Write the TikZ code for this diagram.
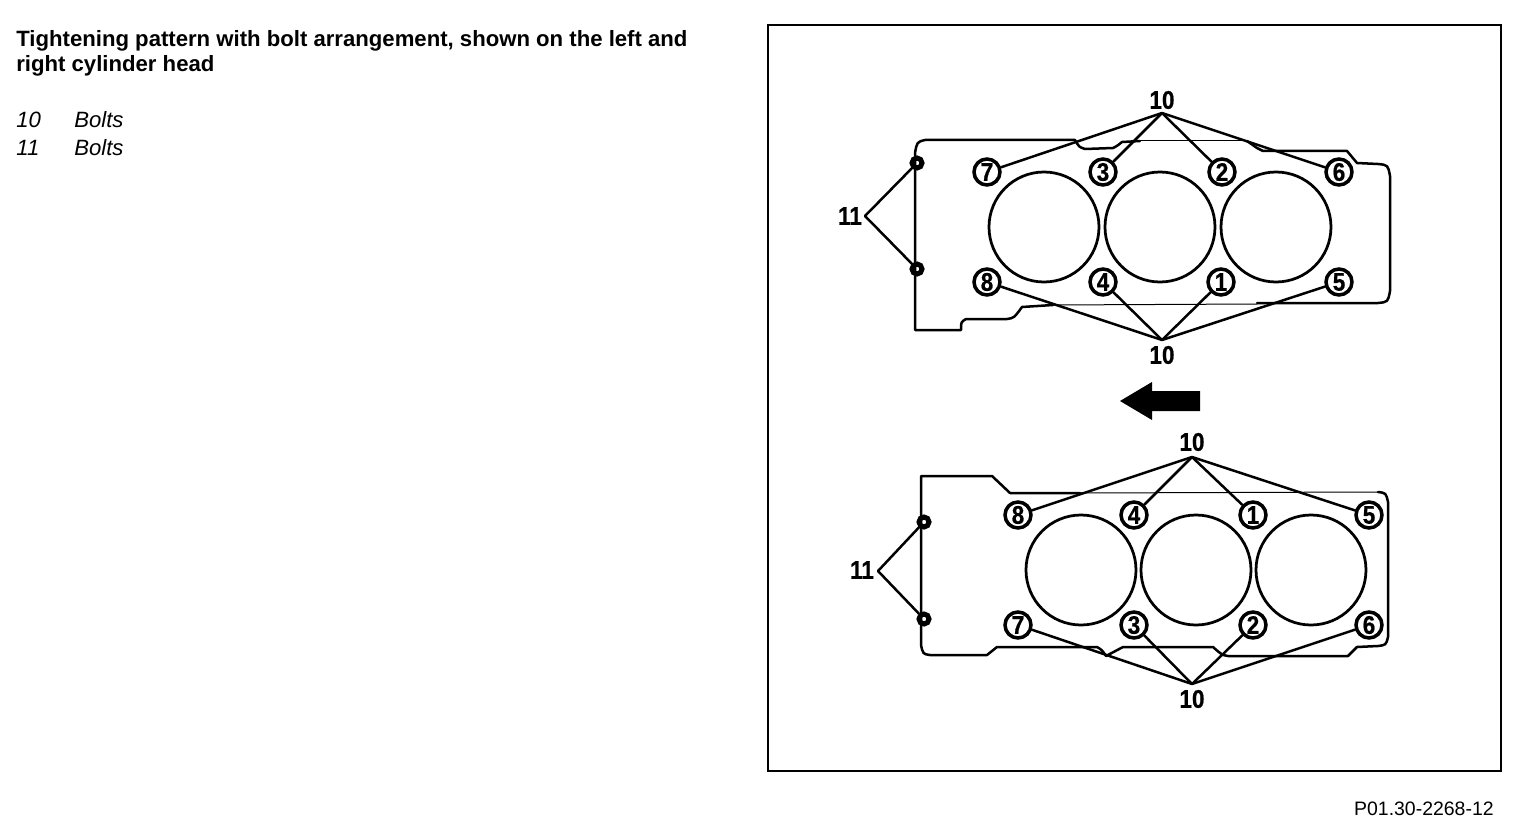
\documentclass[tikz,border=0pt]{standalone}
\usepackage{fontspec}
\setmainfont{Liberation Sans}
\newfontfamily\digitfont[FakeStretch=0.88,BoldFeatures={FakeBold=0.8}]{Liberation Sans}
\tikzset{
  bolt/.style={draw,circle,line width=0.07cm,minimum size=0.52cm,inner sep=0pt,font=\digitfont\fontsize{14.5}{14.5}\selectfont\bfseries},
  hole/.style={draw,circle,line width=0.1cm,minimum size=0.2cm,inner sep=0pt},
  bore/.style={line width=0.055cm},
  outline/.style={line width=0.05cm,line join=round},
  thinline/.style={line width=0.02cm},
  leader/.style={line width=0.05cm},
  callout/.style={inner sep=0pt,font=\digitfont\fontsize{14.5}{14.5}\selectfont\bfseries},
  caption/.style={inner sep=0pt,anchor=base west,font=\fontsize{12.6}{12.6}\selectfont},
  number/.style={caption,font=\fontsize{11.07}{11.07}\selectfont}
}
\begin{document}
\begin{tikzpicture}[x=0.02cm,y=-0.02cm,line cap=round]
    \useasboundingbox (0,0) rectangle (1536,828);
    % text on the left
    \node[caption] (title1) at (16,47) {\bfseries Tightening pattern with bolt arrangement, shown on the left and};
    \node[caption] (title2) at (16,72) {\bfseries right cylinder head};
    \node[caption] (num10) at (16,128) {\itshape 10};
    \node[caption] (txt10) at (74,128) {\itshape Bolts};
    \node[caption] (num11) at (16,155) {\itshape 11};
    \node[caption] (txt11) at (74,155) {\itshape Bolts};
    \node[number,anchor=base east] (code) at (1494,815) {P01.30-2268-12};
    \draw[line width=0.04cm] (768,25) rectangle (1501,771);
    % upper head
    \draw[outline] (1140,141) -- (1122,142) .. controls (1117,146) .. (1113,148) -- (1085,149) .. controls (1079,147) .. (1075,140)
        -- (925,140) .. controls (917,142) .. (915,153) -- (915,330) -- (961,330) .. controls (961,322) .. (966,319)
        -- (1007,319) .. controls (1014,318) .. (1022,307) -- (1053,305);
    \draw[outline] (1247,141) -- (1257,148) -- (1263,151) -- (1347,151) -- (1357,163) -- (1378,164)
        .. controls (1388,165) .. (1390,176) -- (1390,291) .. controls (1388,302) .. (1378,303) -- (1257,303);
    \draw[thinline] (1140,141) -- (1247,141);
    \draw[thinline] (1053,305) -- (1257,304);
    \foreach \x in {1044,1160,1276}
    \draw[bore] (\x,227) circle (55);
    \node[hole] (th1) at (917,163) {};
    \node[hole] (th2) at (917,269) {};
    \foreach \name/\x/\y/\num in {t7/987/172/7,t3/1103/172/3,t2/1222/172/2,t6/1339/172/6,t8/987/282/8,t4/1103/282/4,t1/1221/282/1,t5/1339/282/5}
    \node[bolt] (\name) at (\x,\y) {\num};
    \node[callout] (ttop) at (1162,100) {10};
    \node[callout] (tbot) at (1162,355) {10};
    \node[callout] (tleft) at (850,216) {11};
    \coordinate (atop) at (1162,113);
    \coordinate (abot) at (1162,340);
    \coordinate (aleft) at (865,216);
    \foreach \b in {t7,t3,t2,t6}
    \draw[leader] (atop) -- (\b);
    \foreach \b in {t8,t4,t1,t5}
    \draw[leader] (abot) -- (\b);
    \foreach \b in {th1,th2}
    \draw[leader] (aleft) -- (\b);
    % arrow
    \fill (1120,401) -- (1152,382) -- (1152,391) -- (1200,391) -- (1200,411) -- (1152,411) -- (1152,420) -- cycle;
    % lower head
    \draw[outline] (1378,492) .. controls (1386,493) .. (1388,502) -- (1388,637) .. controls (1386,645) .. (1378,646)
        -- (1357,647) -- (1348,656) -- (1228,656) .. controls (1222,655) .. (1213,647) -- (1123,647) -- (1106,656)
        .. controls (1102,650) .. (1097,647) -- (997,647) -- (987,655) -- (930,655) .. controls (923,654) .. (921,645)
        -- (921,476) -- (992,476) -- (1010,493) -- (1080,493);
    \draw[thinline] (1080,493) -- (1378,492);
    \foreach \x in {1081,1196,1311}
    \draw[bore] (\x,570) circle (55);
    \node[hole] (bh1) at (924,522) {};
    \node[hole] (bh2) at (924,619) {};
    \foreach \name/\x/\y/\num in {b8/1018/515/8,b4/1134/515/4,b1/1253/515/1,b5/1369/515/5,b7/1018/625/7,b3/1134/625/3,b2/1253/625/2,b6/1369/625/6}
    \node[bolt] (\name) at (\x,\y) {\num};
    \node[callout] (btop) at (1192,442) {10};
    \node[callout] (bbot) at (1192,699) {10};
    \node[callout] (bleft) at (862,570) {11};
    \coordinate (ctop) at (1192,457);
    \coordinate (cbot) at (1192,684);
    \coordinate (cleft) at (878,571);
    \foreach \b in {b8,b4,b1,b5}
    \draw[leader] (ctop) -- (\b);
    \foreach \b in {b7,b3,b2,b6}
    \draw[leader] (cbot) -- (\b);
    \foreach \b in {bh1,bh2}
    \draw[leader] (cleft) -- (\b);
\end{tikzpicture}
\end{document}
